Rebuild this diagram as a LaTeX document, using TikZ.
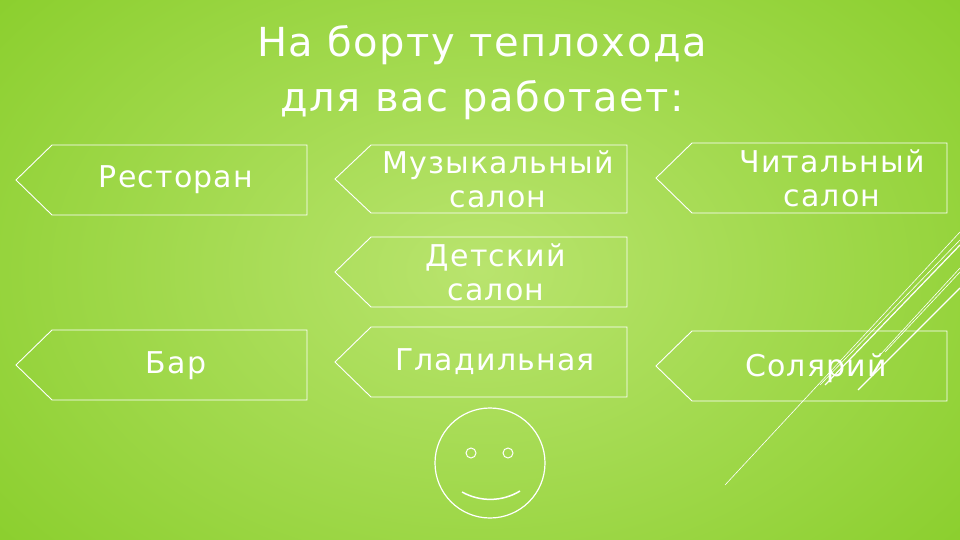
\documentclass[tikz,border=0pt]{standalone}
\usepackage{fontspec}
\setmainfont[LetterSpace=4]{DejaVu Sans}
\begin{document}
\begin{tikzpicture}[x=1pt,y=-1pt,
 tag/.style={draw=white,line width=0.9pt},
 lbl/.style={text=white,font=\fontsize{30}{34}\selectfont,align=center},
 deco/.style={draw=white,line width=0.6pt}]
\useasboundingbox (0,0) rectangle (960,540);
\shade[inner color={rgb,255:red,185;green,228;blue,110},outer color={rgb,255:red,135;green,205;blue,40}] (-200,-200) rectangle (1160,740);
\node[text=white,font=\fontsize{40}{55}\selectfont,align=center] (title) at (482,73) {На борту теплохода\\для вас работает:};
\newcommand\tagbox[5]{%
 \draw[tag] (#1+36,#2) -- (#3,#2) -- (#3,#4) -- (#1+36,#4) -- (#1,{(#2+#4)/2}) -- cycle;
 \node[lbl] (#5) at ({(#1+#3)/2+18},{(#2+#4)/2}) {};}
\tagbox{16}{145}{307}{215}{r}
\node[lbl] at (176,180) {Ресторан};
\tagbox{16}{330}{307}{400}{b}
\node[lbl] at (176,366) {Бар};
\tagbox{335}{145}{627}{213}{m}
\node[lbl] at (498,179) {Музыкальный\\салон};
\tagbox{335}{237}{627}{307}{d}
\node[lbl] at (496,272) {Детский\\салон};
\tagbox{335}{327}{627}{397}{g}
\node[lbl] at (495,362) {Гладильная};
\tagbox{656}{143}{947}{213}{c}
\node[lbl] at (832,178) {Читальный\\салон};
\tagbox{656}{331}{947}{401}{s}
\node[lbl] at (816,368) {Солярий};
% smiley
\draw[white,line width=1.2pt] (490,463) circle (55);
\draw[white,line width=1pt] (471,453) circle (5) (508,453) circle (5);
\draw[white,line width=1.5pt] (462,492) .. controls (480,502) and (502,502) .. (520,491);
% decorative lines
\draw[deco] (725,485) -- (960,232);
\draw[deco] (880,355) -- (960,268);
\draw[deco] (885,352) -- (960,272);
\draw[deco,line width=1.2pt] (825,385) -- (960,245);
\draw[deco,line width=1.2pt] (858,390) -- (960,288);
\draw[deco] (820,385) -- (960,240);
\end{tikzpicture}
\end{document}
